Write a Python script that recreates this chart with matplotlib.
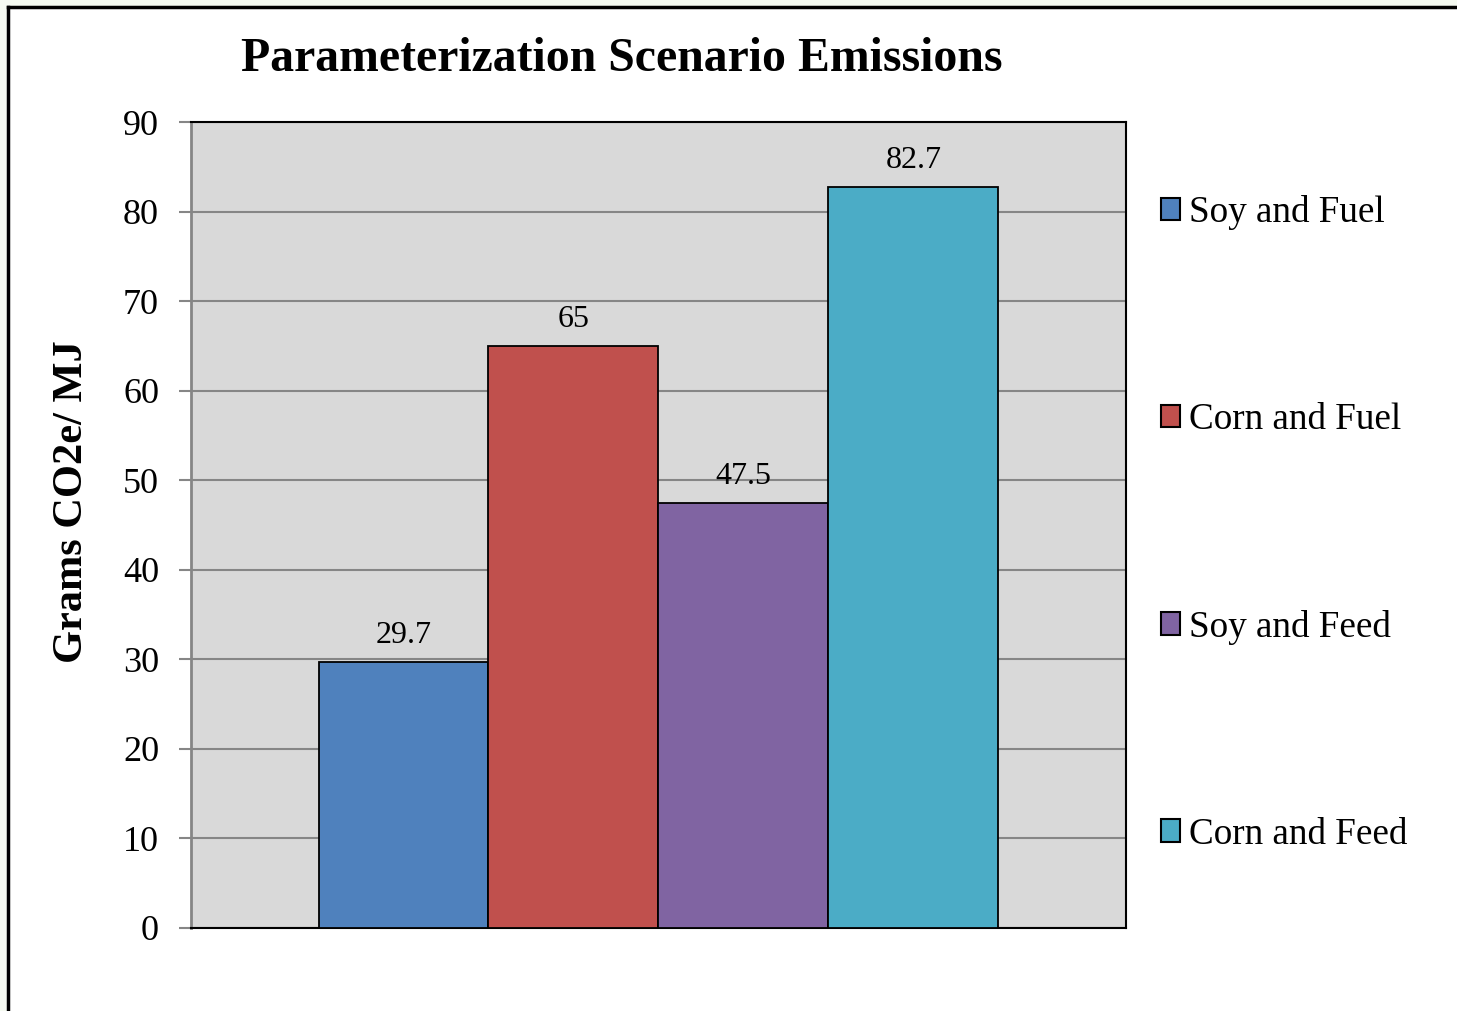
import matplotlib.pyplot as plt
from matplotlib.lines import Line2D
from matplotlib.patches import Rectangle

scenarios = ["Soy and Fuel", "Corn and Fuel", "Soy and Feed", "Corn and Feed"]
emissions = [29.7, 65, 47.5, 82.7]
value_labels = ["29.7", "65", "47.5", "82.7"]
colors = ["#4F81BD", "#C0504D", "#8064A2", "#4BACC6"]
yticks = [0, 10, 20, 30, 40, 50, 60, 70, 80, 90]

plt.rcParams["font.family"] = ["Liberation Serif", "DejaVu Serif"]

fig = plt.figure(figsize=(14.57, 10.11), dpi=100)
fig.patch.set_facecolor("#f5faf1")

# white chart area with a black edge on top and left
fig.patches.append(Rectangle((8 / 1457, 0), 1.0, 1 - 7 / 1011, transform=fig.transFigure,
                             facecolor="white", edgecolor="none", zorder=-10))
fig.add_artist(Line2D([8 / 1457, 1.0], [1 - 7 / 1011, 1 - 7 / 1011], color="black", lw=2.5))
fig.add_artist(Line2D([8 / 1457, 8 / 1457], [0, 1 - 7 / 1011], color="black", lw=2.5))

ax = fig.add_axes([0.1311, 0.0821, 0.6417, 0.7972])
ax.set_facecolor("#D9D9D9")

w = 1.0
for i, (name, val, lab, c) in enumerate(zip(scenarios, emissions, value_labels, colors)):
    x = (i - 1.5) * w
    ax.bar(x, val, width=w, color=c, edgecolor="black", linewidth=1.3, label=name, zorder=3)
    ax.text(x, val + 1.35, lab, ha="center", va="bottom", fontsize=23)

ax.set_xlim(-2.75, 2.75)
ax.set_ylim(0, 90)
ax.set_yticks(yticks)
ax.set_xticks([])
ax.tick_params(axis="y", labelsize=26, length=9, width=1.5, color="#868686", pad=14)
ax.grid(axis="y", color="#868686", linewidth=1.5, zorder=1)
ax.set_axisbelow(True)

ax.spines["left"].set_color("#868686")
ax.spines["left"].set_linewidth(2)
for s in ["top", "right", "bottom"]:
    ax.spines[s].set_color("black")
    ax.spines[s].set_linewidth(1.5)

ax.set_ylabel("Grams CO2e/ MJ", fontsize=30.5, fontweight="bold")
ax.yaxis.set_label_coords(-0.1067, 0.5285)
fig.text(0.427, 0.942, "Parameterization Scenario Emissions", ha="center", va="center",
         fontsize=34.4, fontweight="bold")

leg = ax.legend(loc="upper left", bbox_to_anchor=(1.022, 0.9275), frameon=False, fontsize=26.7,
                handlelength=0.5, handleheight=0.55, handletextpad=0.25, labelspacing=4.65,
                borderaxespad=0)
for h in leg.legend_handles:
    h.set_linewidth(1.5)

fig.savefig("out.png", dpi=100)
